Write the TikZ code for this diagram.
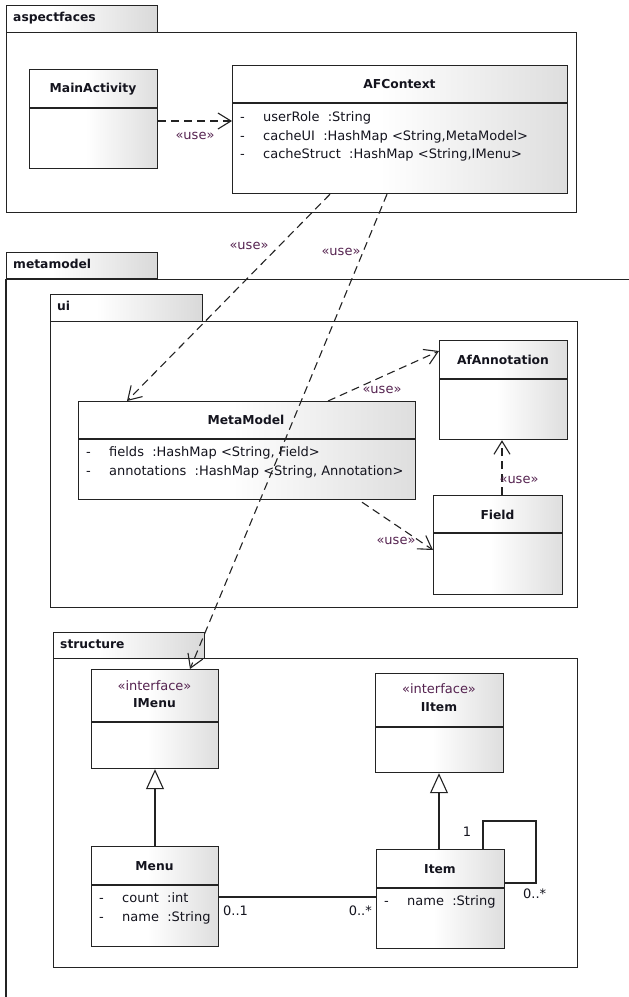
\documentclass[tikz,border=0pt]{standalone}
\usepackage{fontspec}
\setmainfont{DejaVu Sans}
\usetikzlibrary{arrows.meta}

% horizontal fills: the path spans 25bp..75bp of the shading
\pgfdeclarehorizontalshading{clsgrad}{100bp}{color(0bp)=(white); color(25bp)=(white); color(47bp)=(white); color(75bp)=(black!13); color(100bp)=(black!13)}
\pgfdeclarehorizontalshading{tabgrad}{100bp}{color(0bp)=(white); color(25bp)=(white); color(40bp)=(white); color(75bp)=(black!15); color(100bp)=(black!15)}

\definecolor{linec}{RGB}{35,35,35}
\definecolor{txt}{RGB}{20,20,30}
\definecolor{stc}{RGB}{85,35,80}

\newcommand\regfont{\fontsize{13}{15}\selectfont}
\newcommand\boldfont{\fontsize{12.3}{15}\selectfont\bfseries}

% class box with a compartment line #6 pt below its top
\newcommand\classbox[6]{%
  \node[clsbox, minimum width=#4pt, minimum height=#5pt] (#1) at (#2,#3) {};
  \draw[ln] ([yshift=-#6pt]#1.north west) -- ([yshift=-#6pt]#1.north east);
}
% package: tab plus body
\newcommand\package[9]{%
  \node[pkgbody, minimum width=#6pt, minimum height=#7pt] (#1-body) at (#2,#8) {};
  \node[pkgtab, minimum width=#4pt, minimum height=#5pt] (#1-tab) at (#2,#3) {};
  \node[pkglbl] (#1-lbl) at ([xshift=7pt]#1-tab.west) {#9};
}

\tikzset{
  ln/.style={draw=linec, line width=1.1pt},
  clsbox/.style={rectangle, draw=linec, line width=1.2pt, shading=clsgrad, anchor=north west, inner sep=0pt},
  pkgtab/.style={rectangle, draw=linec, line width=1.1pt, shading=tabgrad, anchor=north west, inner sep=0pt},
  pkgbody/.style={rectangle, draw=linec, line width=1.1pt, fill=white, anchor=north west, inner sep=0pt},
  pkglbl/.style={font=\boldfont, text=txt, anchor=mid west, inner sep=0pt},
  ttl/.style={font=\boldfont, text=txt, anchor=mid, inner sep=0pt},
  attr/.style={font=\regfont, text=txt, anchor=mid west, inner sep=0pt},
  stereo/.style={font=\regfont, text=stc, anchor=mid, inner sep=0pt},
  uselbl/.style={font=\regfont, text=stc, anchor=mid, inner sep=0pt},
  mult/.style={font=\regfont, text=txt, inner sep=0pt},
  dep/.style={draw=linec, line width=1.1pt, dash pattern=on 8pt off 5pt,
    -{Straight Barb[length=13pt,width=16pt]}},
  gen/.style={draw=linec, line width=1.1pt,
    -{Triangle[open,length=20pt,width=18pt,fill=white]}},
  assoc/.style={draw=linec, line width=1.1pt},
}

\newcommand\attrline[1]{\makebox[23pt][l]{-}#1}

\begin{document}
\begin{tikzpicture}[x=1pt, y=-1pt]
\useasboundingbox (0,0) rectangle (629,997);
\fill[white] (0,0) rectangle (629,997);

% ---------- packages ----------
\package{aspectfaces}{6}{5}{151}{27}{570}{180}{32}{aspectfaces}

% metamodel runs past the page edges: only its tab and two sides
\node[pkgtab, minimum width=151pt, minimum height=26pt] (metamodel-tab) at (6,252) {};
\node[pkglbl] (metamodel-lbl) at ([xshift=7pt]metamodel-tab.west) {metamodel};
\coordinate (mm-bl) at (6,1000);
\coordinate (mm-tr) at (632,278);
\draw[ln] (mm-bl) -- (metamodel-tab.south west) -- (metamodel-tab.south west -| mm-tr);

\package{ui}{50}{294}{152}{27}{527}{286}{321}{ui}
\package{structure}{53}{632}{151}{26}{524}{309}{658}{structure}

% ---------- aspectfaces ----------
\classbox{mainact}{29}{69}{128}{99}{39}
\node[ttl] (mainact-t) at (93,90) {MainActivity};

\classbox{afc}{232}{65}{335}{128}{38}
\node[ttl] (afc-t) at (399.5,86) {AFContext};
\node[attr] (afc-a1) at (240,119) {\attrline{userRole\ \ :String}};
\node[attr] (afc-a2) at (240,137.5) {\attrline{cacheUI\ \ :HashMap <String,MetaModel>}};
\node[attr] (afc-a3) at (240,156) {\attrline{cacheStruct\ \ :HashMap <String,IMenu>}};

% ---------- ui ----------
\classbox{metam}{78}{401}{337}{98}{38}
\node[ttl] (metam-t) at (246,422) {MetaModel};
\node[attr] (metam-a1) at (86,454) {\attrline{fields\ \ :HashMap <String, Field>}};
\node[attr] (metam-a2) at (86,473) {\attrline{annotations\ \ :HashMap <String, Annotation>}};

\classbox{afann}{439}{340}{128}{99}{39}
\node[ttl] (afann-t) at (503,362) {AfAnnotation};

\classbox{field}{433}{495}{129}{99}{38}
\node[ttl] (field-t) at (497.5,517) {Field};

% ---------- structure ----------
\classbox{imenu}{91}{669}{127}{99}{53}
\node[stereo] (imenu-s) at (154.5,688) {«interface»};
\node[ttl] (imenu-t) at (154.5,705) {IMenu};

\classbox{iitem}{375}{673}{128}{99}{54}
\node[stereo] (iitem-s) at (439,691) {«interface»};
\node[ttl] (iitem-t) at (439,709) {IItem};

\classbox{menu}{91}{846}{127}{100}{39}
\node[ttl] (menu-t) at (154.5,868) {Menu};
\node[attr] (menu-a1) at (99,900) {\attrline{count\ \ :int}};
\node[attr] (menu-a2) at (99,919) {\attrline{name\ \ :String}};

\classbox{item}{376}{849}{128}{99}{39}
\node[ttl] (item-t) at (440,871) {Item};
\node[attr] (item-a1) at (384,903) {\attrline{name\ \ :String}};

% ---------- dependencies ----------
\draw[dep] ([yshift=-52pt]mainact.north east) -- ([yshift=-56pt]afc.north west);
\node[uselbl] (use1) at (195,137) {«use»};

\draw[dep] ([xshift=98pt]afc.south west) -- ([xshift=49pt]metam.north west);
\node[uselbl] (use2) at (249,247) {«use»};

\draw[dep] ([xshift=155pt]afc.south west) -- ([xshift=99pt]imenu.north west);
\node[uselbl] (use3) at (341,253) {«use»};

\draw[dep] ([xshift=250pt]metam.north west) -- ([yshift=-11pt]afann.north west);
\node[uselbl] (use4) at (382,391) {«use»};

\draw[dep] ([xshift=284pt,yshift=-2pt]metam.south west) -- ([yshift=-55pt]field.north west);
\node[uselbl] (use5) at (396,542) {«use»};

\draw[dep] ([xshift=69pt]field.north west) -- ([xshift=63pt]afann.south west);
\node[uselbl] (use6) at (519,481) {«use»};

% ---------- realizations ----------
\draw[gen] ([xshift=64pt]menu.north west) -- ([xshift=64pt]imenu.south west);
\draw[gen] ([xshift=63pt]item.north west) -- ([xshift=64pt]iitem.south west);

% ---------- associations ----------
\draw[assoc] ([yshift=-51pt]menu.north east) -- ([yshift=-48pt]item.north west);
\node[mult, anchor=mid west] (m-menu) at (223,913) {0..1};
\node[mult, anchor=mid east] (m-item) at (372,913) {0..*};

\draw[assoc] ([xshift=107pt]item.north west) -- ++(0,-28) -- ++(53,0) -- ++(0,62)
  -- ([yshift=-34pt]item.north east);
\node[mult] (m-self1) at (467,832) {1};
\node[mult, anchor=mid west] (m-self2) at (523,896) {0..*};

\end{tikzpicture}
\end{document}
